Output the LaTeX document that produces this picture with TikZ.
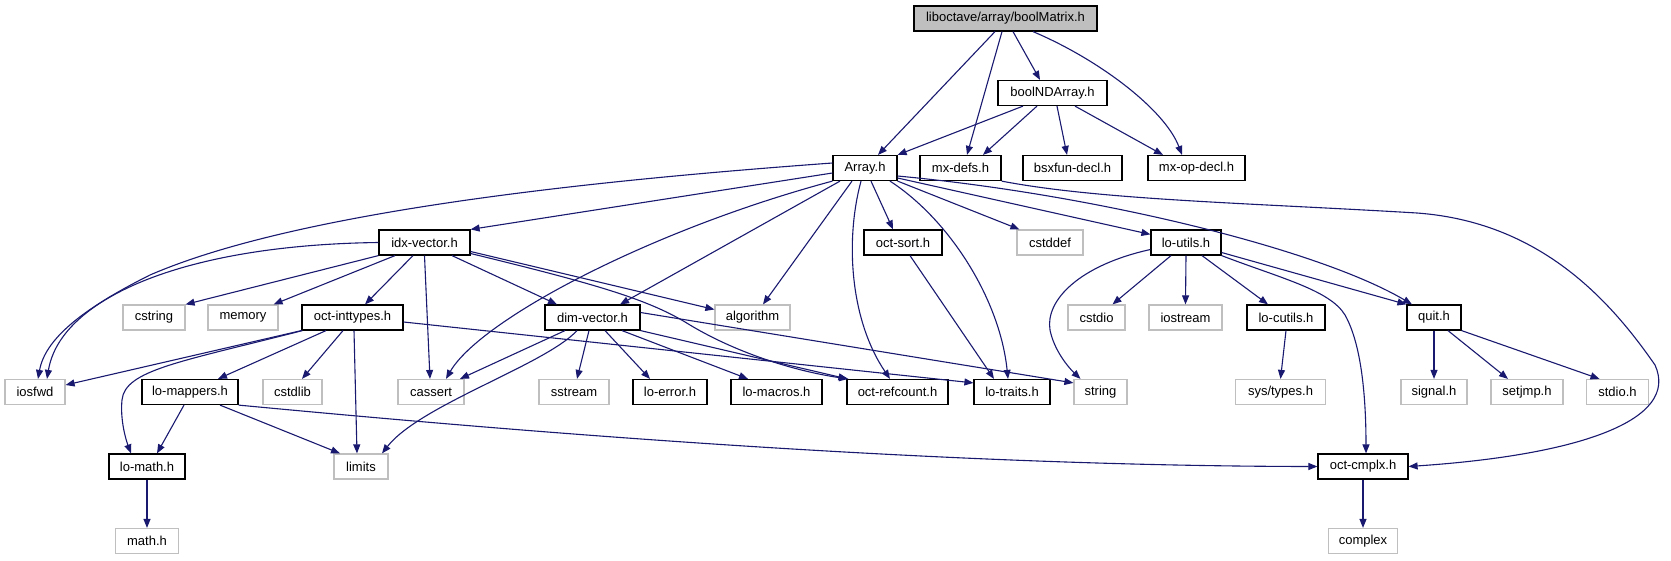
\documentclass[tikz,border=0pt]{standalone}
\usepackage{fontspec}
\setmainfont{Liberation Sans}
\usetikzlibrary{arrows.meta}
\definecolor{edgec}{HTML}{191970}
\definecolor{graybd}{HTML}{BFBFBF}
\tikzset{
  nb/.style={draw=black, line width=1.2pt, fill=white, minimum height=25pt, inner sep=0pt,
    font=\fontsize{13pt}{15pt}\selectfont},
  ng/.style={nb, draw=graybd},
  e/.style={draw=edgec, line width=1.1pt, -{Triangle[length=9pt,width=7pt]}}
}
\begin{document}
\begin{tikzpicture}[x=1pt,y=-1pt]
\useasboundingbox (0,0) rectangle (1671,560);
% row 0
\node[nb, fill=graybd, minimum width=183pt] (bm) at (1005.5,18.5) {liboctave/array/boolMatrix.h};
% row 1
\node[nb, minimum width=109pt] (bnd) at (1052.5,93) {boolNDArray.h};
% row 2
\node[nb, minimum width=64pt] (arr) at (865,168) {Array.h};
\node[nb, minimum width=81pt] (mxdefs) at (960.5,168) {mx-defs.h};
\node[nb, minimum width=99pt] (bsx) at (1072.5,168) {bsxfun-decl.h};
\node[nb, minimum width=97pt] (mxop) at (1196.5,168) {mx-op-decl.h};
% row 3
\node[nb, minimum width=91pt] (idx) at (424.5,242.5) {idx-vector.h};
\node[nb, minimum width=78pt] (osort) at (903,242.5) {oct-sort.h};
\node[ng, minimum width=66pt] (cstddef) at (1050,242.5) {cstddef};
\node[nb, minimum width=70pt] (loutils) at (1186,242.5) {lo-utils.h};
% row 4
\node[ng, minimum width=62pt] (cstring) at (154,317.5) {cstring};
\node[ng, minimum width=70pt] (memory) at (243,317.5) {memory};
\node[nb, minimum width=101pt] (octint) at (352.5,317.5) {oct-inttypes.h};
\node[nb, minimum width=95pt] (dimvec) at (592.5,317.5) {dim-vector.h};
\node[ng, minimum width=75pt] (algo) at (752.5,317.5) {algorithm};
\node[ng, minimum width=57pt] (cstdio) at (1096.5,317.5) {cstdio};
\node[ng, minimum width=73pt] (iostream) at (1185.5,317.5) {iostream};
\node[nb, minimum width=78pt] (locutils) at (1286,317.5) {lo-cutils.h};
\node[nb, minimum width=54pt] (quit) at (1434,317.5) {quit.h};
% row 5
\node[ng, minimum width=60pt] (iosfwd) at (35,392) {iosfwd};
\node[nb, minimum width=96pt] (lomap) at (190,392) {lo-mappers.h};
\node[ng, minimum width=59pt] (cstdlib) at (292.5,392) {cstdlib};
\node[ng, minimum width=66pt] (cassert) at (431,392) {cassert};
\node[ng, minimum width=70pt] (sstream) at (574,392) {sstream};
\node[nb, minimum width=74pt] (loerror) at (670,392) {lo-error.h};
\node[nb, minimum width=91pt] (lomacros) at (776.5,392) {lo-macros.h};
\node[nb, minimum width=101pt] (octref) at (897.5,392) {oct-refcount.h};
\node[nb, minimum width=76pt] (lotraits) at (1012,392) {lo-traits.h};
\node[ng, minimum width=53pt] (string) at (1100.5,392) {string};
\node[ng, minimum width=90pt] (systypes) at (1280.5,392) {sys/types.h};
\node[ng, minimum width=66pt] (signal) at (1434,392) {signal.h};
\node[ng, minimum width=72pt] (setjmp) at (1527,392) {setjmp.h};
\node[ng, minimum width=62pt] (stdio) at (1617.5,392) {stdio.h};
% row 6
\node[nb, minimum width=76pt] (lomath) at (147,466.5) {lo-math.h};
\node[ng, minimum width=54pt] (limits) at (361,466.5) {limits};
\node[nb, minimum width=90pt] (octcmplx) at (1363,466.5) {oct-cmplx.h};
% row 7
\node[ng, minimum width=63pt] (mathh) at (147,541) {math.h};
\node[ng, minimum width=69pt] (complex) at (1363,541) {complex};

% boolMatrix
\draw[e] ([xshift=-10.5]bm.south) -- ([xshift=13]arr.north);
\draw[e] ([xshift=-3.5]bm.south) -- ([xshift=6.5]mxdefs.north);
\draw[e] ([xshift=7.5]bm.south) -- ([xshift=-12.5]bnd.north);
\draw[e] ([xshift=27.5]bm.south) .. controls (1100,60) and (1165,110) .. ([xshift=-14.5]mxop.north);
% boolNDArray
\draw[e] ([xshift=-29.5]bnd.south) -- (arr.north east);
\draw[e] ([xshift=-15.5]bnd.south) -- ([xshift=22.5]mxdefs.north);
\draw[e] ([xshift=4.5]bnd.south) -- ([xshift=-5.5]bsx.north);
\draw[e] ([xshift=22.5]bnd.south) -- ([xshift=-33.5]mxop.north);
% Array
\draw[e] ([yshift=5]arr.west) .. controls (600,180) and (300,210) .. (150,275) .. controls (80,310) and (45,340) .. ([xshift=3]iosfwd.north);
\draw[e] ([yshift=-5]arr.west) -- (idx.north east);
\draw[e] (arr.south west) .. controls (650,230) and (480,320) .. ([xshift=15]cassert.north);
\draw[e] ([xshift=-25]arr.south) -- ([xshift=27.5]dimvec.north);
\draw[e] ([xshift=-13]arr.south) -- ([xshift=10.5]algo.north);
\draw[e] ([xshift=-4]arr.south) .. controls (845,240) and (850,320) .. ([xshift=-7.5]octref.north);
\draw[e] ([xshift=6]arr.south) -- ([xshift=-10]osort.north);
\draw[e] ([xshift=25]arr.south) .. controls (950,220) and (1000,300) .. ([xshift=-4]lotraits.north);
\draw[e] (arr.south east) -- ([xshift=3]cstddef.north west);
\draw[e] ([yshift=-10]arr.east) -- ([yshift=-5]loutils.north west);
\draw[e] ([yshift=-8]arr.east) .. controls (1100,195) and (1320,250) .. ([xshift=-22]quit.north);
% mx-defs
\draw[e] (mxdefs.south east) .. controls (1100,200) and (1250,203) .. (1417,213) .. controls (1540,222) and (1610,300) .. (1655,365) .. controls (1680,420) and (1580,455) .. (octcmplx.east);
% idx-vector
\draw[e] (idx.west) .. controls (180,245) and (60,300) .. ([xshift=12]iosfwd.north);
\draw[e] (idx.south west) -- (cstring.north east);
\draw[e] ([xshift=-29.5]idx.south) -- ([xshift=-5]memory.north east);
\draw[e] ([xshift=-11.5]idx.south) -- ([xshift=12.5]octint.north);
\draw[e] (idx.south) -- ([xshift=-1]cassert.north);
\draw[e] ([xshift=27.5]idx.south) -- ([xshift=-35.5]dimvec.north);
\draw[e] ([yshift=-9]idx.east) -- ([yshift=8]algo.west);
\draw[e] ([yshift=-11]idx.east) .. controls (600,285) and (650,300) .. (690,325) .. controls (740,355) and (800,372) .. ([xshift=2]octref.north west);
% oct-inttypes
\draw[e] (octint.south west) -- ([yshift=7]iosfwd.east);
\draw[e] ([xshift=1]octint.south west) .. controls (180,362) and (125,370) .. (122,400) .. controls (120,420) and (126,440) .. ([xshift=-16]lomath.north);
\draw[e] ([xshift=-26.5]octint.south) -- ([xshift=28]lomap.north);
\draw[e] ([xshift=-9.5]octint.south) -- ([xshift=9.5]cstdlib.north);
\draw[e] ([xshift=1.5]octint.south) -- ([xshift=-4]limits.north);
\draw[e] ([yshift=-4.5]octint.east) -- ([yshift=-4]lotraits.north west);
% dim-vector
\draw[e] ([xshift=-27.5]dimvec.south) -- ([xshift=29]cassert.north);
\draw[e] ([xshift=-15.5]dimvec.south) .. controls (545,365) and (420,405) .. ([xshift=21]limits.north);
\draw[e] ([xshift=-3.5]dimvec.south) -- ([xshift=3]sstream.north);
\draw[e] ([xshift=12.5]dimvec.south) -- ([xshift=-20]loerror.north);
\draw[e] ([xshift=29.5]dimvec.south) -- ([xshift=-28.5]lomacros.north);
\draw[e] (dimvec.south east) -- ([xshift=1]octref.north west);
\draw[e] ([yshift=5]dimvec.east) -- ([yshift=-4]string.north west);
% oct-sort
\draw[e] ([xshift=7]osort.south) -- ([xshift=-18]lotraits.north);
% lo-utils
\draw[e] ([yshift=-7]loutils.west) .. controls (1080,265) and (1045,300) .. (1050,330) .. controls (1054,350) and (1068,367) .. ([xshift=-20]string.north);
\draw[e] ([xshift=-15]loutils.south) -- ([xshift=16]cstdio.north);
\draw[e] (loutils.south) -- (iostream.north);
\draw[e] ([xshift=16]loutils.south) -- ([xshift=-18]locutils.north);
\draw[e] ([yshift=-10]loutils.east) -- (quit.north west);
\draw[e] (loutils.south east) .. controls (1280,278) and (1330,290) .. (1345,315) .. controls (1362,345) and (1366,400) .. ([xshift=3]octcmplx.north);
% lo-cutils
\draw[e] (locutils.south) -- (systypes.north);
% quit
\draw[e] (quit.south) -- (signal.north);
\draw[e] ([xshift=14]quit.south) -- ([xshift=-19]setjmp.north);
\draw[e] (quit.south east) -- ([xshift=-18]stdio.north);
% lo-mappers
\draw[e] ([xshift=-6]lomap.south) -- ([xshift=10]lomath.north);
\draw[e] ([xshift=30]lomap.south) -- ([xshift=-21]limits.north);
\draw[e] (lomap.south east) .. controls (450,425) and (900,466) .. (octcmplx.west);
% lo-math, oct-cmplx
\draw[e] (lomath.south) -- (mathh.north);
\draw[e] (octcmplx.south) -- (complex.north);
\end{tikzpicture}
\end{document}
